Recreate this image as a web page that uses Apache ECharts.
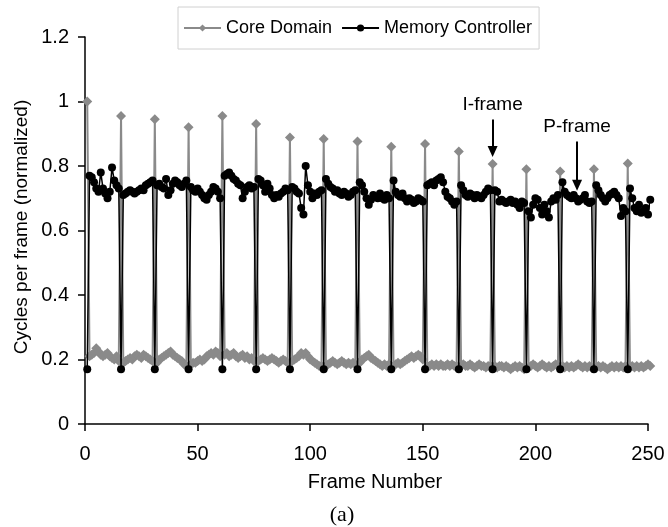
<!DOCTYPE html>
<html>
<head>
<meta charset="utf-8">
<script src="https://cdn.jsdelivr.net/npm/echarts@6/dist/echarts.min.js"></script>
<style>html,body{margin:0;padding:0;background:#fff}#c{width:668px;height:527px}</style>
</head>
<body>
<div id="c"></div>
<script>
// Core Domain (frames 1..251), grouped by GOP of 15 frames (I-frame first)
const coreDomain = [
  1.00,0.21,0.215,0.22,0.235,0.225,0.215,0.21,0.215,0.22,0.21,0.205,0.20,0.21,0.195,
  0.955,0.19,0.195,0.20,0.205,0.20,0.21,0.215,0.21,0.205,0.215,0.21,0.205,0.20,0.195,
  0.945,0.19,0.20,0.205,0.21,0.215,0.22,0.225,0.215,0.21,0.205,0.20,0.195,0.185,0.18,
  0.92,0.185,0.19,0.19,0.195,0.20,0.195,0.20,0.21,0.215,0.22,0.215,0.225,0.22,0.21,
  0.955,0.215,0.22,0.21,0.215,0.22,0.21,0.205,0.21,0.215,0.205,0.21,0.20,0.205,0.195,
  0.93,0.195,0.20,0.205,0.20,0.195,0.20,0.205,0.20,0.195,0.19,0.195,0.20,0.195,0.19,
  0.888,0.195,0.20,0.205,0.21,0.22,0.215,0.22,0.21,0.20,0.195,0.19,0.185,0.18,0.18,
  0.884,0.18,0.185,0.19,0.195,0.19,0.185,0.19,0.195,0.19,0.185,0.19,0.185,0.19,0.185,
  0.876,0.19,0.20,0.205,0.21,0.215,0.205,0.20,0.195,0.19,0.185,0.18,0.185,0.18,0.185,
  0.86,0.18,0.185,0.19,0.185,0.19,0.195,0.20,0.205,0.21,0.205,0.21,0.215,0.21,0.20,
  0.868,0.18,0.18,0.185,0.18,0.185,0.18,0.185,0.18,0.18,0.185,0.18,0.185,0.18,0.18,
  0.845,0.18,0.185,0.18,0.18,0.185,0.18,0.175,0.18,0.185,0.18,0.18,0.175,0.18,0.18,
  0.806,0.18,0.175,0.18,0.18,0.175,0.18,0.175,0.17,0.175,0.18,0.175,0.18,0.175,0.17,
  0.79,0.175,0.18,0.185,0.18,0.175,0.18,0.185,0.18,0.175,0.18,0.175,0.18,0.185,0.18,
  0.783,0.18,0.175,0.18,0.175,0.18,0.175,0.18,0.185,0.18,0.175,0.18,0.175,0.18,0.175,
  0.79,0.175,0.18,0.175,0.18,0.175,0.17,0.175,0.18,0.175,0.18,0.175,0.18,0.175,0.18,
  0.808,0.175,0.18,0.175,0.18,0.175,0.18,0.175,0.18,0.185,0.18
];
// Memory Controller (frames 1..251)
const memoryController = [
  0.17,0.77,0.765,0.75,0.73,0.72,0.78,0.73,0.715,0.70,0.72,0.795,0.755,0.74,0.73,
  0.17,0.71,0.715,0.72,0.725,0.72,0.715,0.72,0.725,0.73,0.725,0.74,0.745,0.75,0.755,
  0.17,0.74,0.745,0.735,0.73,0.76,0.71,0.725,0.745,0.755,0.75,0.74,0.735,0.745,0.755,
  0.17,0.735,0.725,0.72,0.73,0.72,0.71,0.70,0.695,0.71,0.72,0.735,0.73,0.72,0.70,
  0.17,0.77,0.775,0.78,0.77,0.76,0.755,0.745,0.74,0.70,0.72,0.735,0.74,0.73,0.735,
  0.17,0.76,0.755,0.74,0.72,0.745,0.73,0.71,0.70,0.71,0.705,0.715,0.72,0.73,0.725,
  0.17,0.735,0.73,0.72,0.715,0.67,0.65,0.80,0.74,0.72,0.70,0.715,0.71,0.72,0.725,
  0.17,0.76,0.745,0.735,0.73,0.72,0.725,0.715,0.71,0.72,0.715,0.705,0.71,0.72,0.725,
  0.17,0.75,0.74,0.72,0.70,0.68,0.695,0.71,0.705,0.70,0.715,0.70,0.695,0.71,0.70,
  0.17,0.755,0.72,0.71,0.705,0.715,0.70,0.69,0.70,0.695,0.685,0.69,0.70,0.695,0.69,
  0.17,0.74,0.745,0.75,0.74,0.755,0.76,0.765,0.75,0.72,0.705,0.70,0.69,0.68,0.69,
  0.17,0.74,0.725,0.71,0.705,0.715,0.71,0.70,0.71,0.705,0.70,0.71,0.72,0.73,0.725,
  0.17,0.725,0.72,0.69,0.695,0.69,0.685,0.69,0.695,0.685,0.69,0.68,0.67,0.69,0.685,
  0.17,0.66,0.64,0.68,0.70,0.695,0.67,0.65,0.68,0.66,0.64,0.69,0.70,0.695,0.71,
  0.17,0.75,0.72,0.71,0.705,0.70,0.71,0.70,0.69,0.695,0.70,0.71,0.69,0.685,0.69,
  0.17,0.74,0.725,0.71,0.70,0.69,0.70,0.71,0.715,0.72,0.71,0.70,0.645,0.67,0.66,
  0.17,0.73,0.70,0.67,0.66,0.68,0.655,0.66,0.67,0.65,0.695
];
const firstFrame = 1;
const xTicks = [0, 50, 100, 150, 200, 250];
const yTicks = [0, 0.2, 0.4, 0.6, 0.8, 1, 1.2];
const seriesNames = ['Core Domain', 'Memory Controller'];
const annotations = [
  { text: 'I-frame', x: 181, yFrom: 0.944, yTo: 0.845 },
  { text: 'P-frame', x: 218.5, yFrom: 0.876, yTo: 0.740 }
];

const FONT = "'Liberation Sans', Arial, sans-serif";
const pairs = arr => arr.map((v, i) => [firstFrame + i, v]);

const chart = echarts.init(document.getElementById('c'), null, { renderer: 'canvas' });
chart.setOption({
  animation: false,
  backgroundColor: '#fff',
  grid: { left: 85, right: 20, top: 37, bottom: 103, containLabel: false },
  legend: {
    left: 178, top: 7,
    data: seriesNames,
    borderColor: '#d0d0d0', borderWidth: 1,
    padding: [12, 7, 12, 5],
    itemWidth: 37, itemHeight: 9, itemGap: 9,
    textStyle: { fontFamily: FONT, fontSize: 18, color: '#000', padding: [0, 0, 0, 0] }
  },
  xAxis: {
    type: 'value', min: xTicks[0], max: xTicks[xTicks.length - 1], interval: 50,
    axisLine: { lineStyle: { color: '#000', width: 1.5 } },
    axisTick: { show: true, length: 7, lineStyle: { color: '#000', width: 1.5 } },
    axisLabel: { fontFamily: FONT, fontSize: 20, color: '#000', margin: 20 },
    splitLine: { show: false }
  },
  yAxis: {
    type: 'value', min: yTicks[0], max: yTicks[yTicks.length - 1], interval: 0.2,
    axisLine: { show: true, lineStyle: { color: '#000', width: 1.5 } },
    axisTick: { show: true, length: 7, lineStyle: { color: '#000', width: 1.5 } },
    axisLabel: { fontFamily: FONT, fontSize: 20, color: '#000', margin: 16 },
    splitLine: { show: false }
  },
  series: [
    {
      name: seriesNames[0], type: 'line', data: pairs(coreDomain),
      symbol: 'diamond', symbolSize: 10, showSymbol: true, clip: false,
      color: '#8a8a8a',
      lineStyle: { color: '#8a8a8a', width: 2 },
      itemStyle: { color: '#8a8a8a' },
      z: 2
    },
    {
      name: seriesNames[1], type: 'line', data: pairs(memoryController),
      symbol: 'circle', symbolSize: 8, showSymbol: true, clip: false,
      color: '#000',
      lineStyle: { color: '#000', width: 1.5 },
      itemStyle: { color: '#000' },
      z: 3,
      markLine: {
        silent: true, animation: false,
        symbol: ['none', 'triangle'], symbolSize: [10, 11], symbolRotate: 180,
        lineStyle: { color: '#000', width: 2, type: 'solid' },
        label: { show: true, position: 'start', distance: 5, fontFamily: FONT, fontSize: 19, color: '#000',
                 formatter: p => p.data.name },
        data: annotations.map(a => [
          { coord: [a.x, a.yFrom], name: a.text },
          { coord: [a.x, a.yTo] }
        ])
      }
    }
  ],
  graphic: [
    { type: 'text', x: 22, y: 227, rotation: Math.PI / 2,
      style: { text: 'Cycles per frame (normalized)', font: "19px 'Liberation Sans', Arial, sans-serif",
               fill: '#000', textAlign: 'center', textVerticalAlign: 'middle' } },
    { type: 'text', x: 375, y: 482,
      style: { text: 'Frame Number', font: "20px 'Liberation Sans', Arial, sans-serif",
               fill: '#000', textAlign: 'center', textVerticalAlign: 'middle' } },
    { type: 'text', x: 342, y: 515,
      style: { text: '(a)', font: "22px 'Liberation Serif', 'Times New Roman', serif",
               fill: '#000', textAlign: 'center', textVerticalAlign: 'middle' } }
  ]
});
</script>
</body>
</html>
